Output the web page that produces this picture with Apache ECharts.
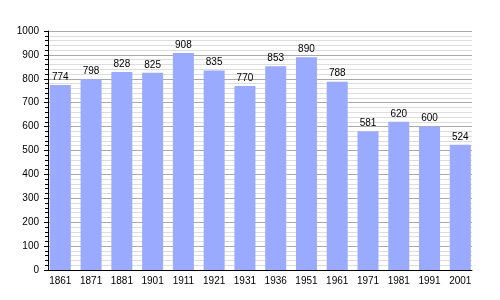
<!DOCTYPE html>
<html><head><meta charset="utf-8">
<script src="https://cdn.jsdelivr.net/npm/echarts@6/dist/echarts.min.js"></script>
<style>html,body{margin:0;padding:0;background:#fff}#c{width:500px;height:300px}</style>
</head><body><div id="c"></div>
<script>
var years = ['1861','1871','1881','1901','1911','1921','1931','1936','1951','1961','1971','1981','1991','2001'];
var population = [774,798,828,825,908,835,770,853,890,788,581,620,600,524];
var idx = years.map(function(y,i){return i;});
var chart = echarts.init(document.getElementById('c'), null, {renderer:'canvas'});
var ff = 'Liberation Sans, Arial, sans-serif';
chart.setOption({
  animation:false,
  grid:{left:48,right:28,top:31,bottom:30,containLabel:false},
  xAxis:{type:'value',min:-0.4,max:13.38,
    axisLine:{show:true,onZero:false,lineStyle:{color:'#000',width:1}},
    axisTick:{show:false},
    splitLine:{show:false},
    axisLabel:{color:'#000',fontSize:10,fontFamily:ff,margin:6,customValues:idx,
      formatter:function(v){return years[Math.round(v)];}}},
  yAxis:{type:'value',min:0,max:1000,interval:100,
    axisLine:{show:true,onZero:false,lineStyle:{color:'#000',width:1}},
    axisTick:{show:true,length:4,lineStyle:{color:'#000'}},
    minorTick:{show:true,splitNumber:5,length:3,lineStyle:{color:'#000'}},
    splitLine:{show:true,lineStyle:{color:'#aaaaaa',width:1}},
    minorSplitLine:{show:true,lineStyle:{color:'#dddddd',width:1}},
    axisLabel:{color:'#000',fontSize:10,fontFamily:ff,margin:9,formatter:function(v){return String(v);}}},
  series:[{type:'bar',data:idx.map(function(i){return [i,population[i]];}),barWidth:21,
    itemStyle:{color:'#99aaff'},
    label:{show:true,position:'top',color:'#000',fontSize:10,fontFamily:ff,distance:3,
      formatter:function(p){return String(p.value[1]);}}}]
});
</script></body></html>
